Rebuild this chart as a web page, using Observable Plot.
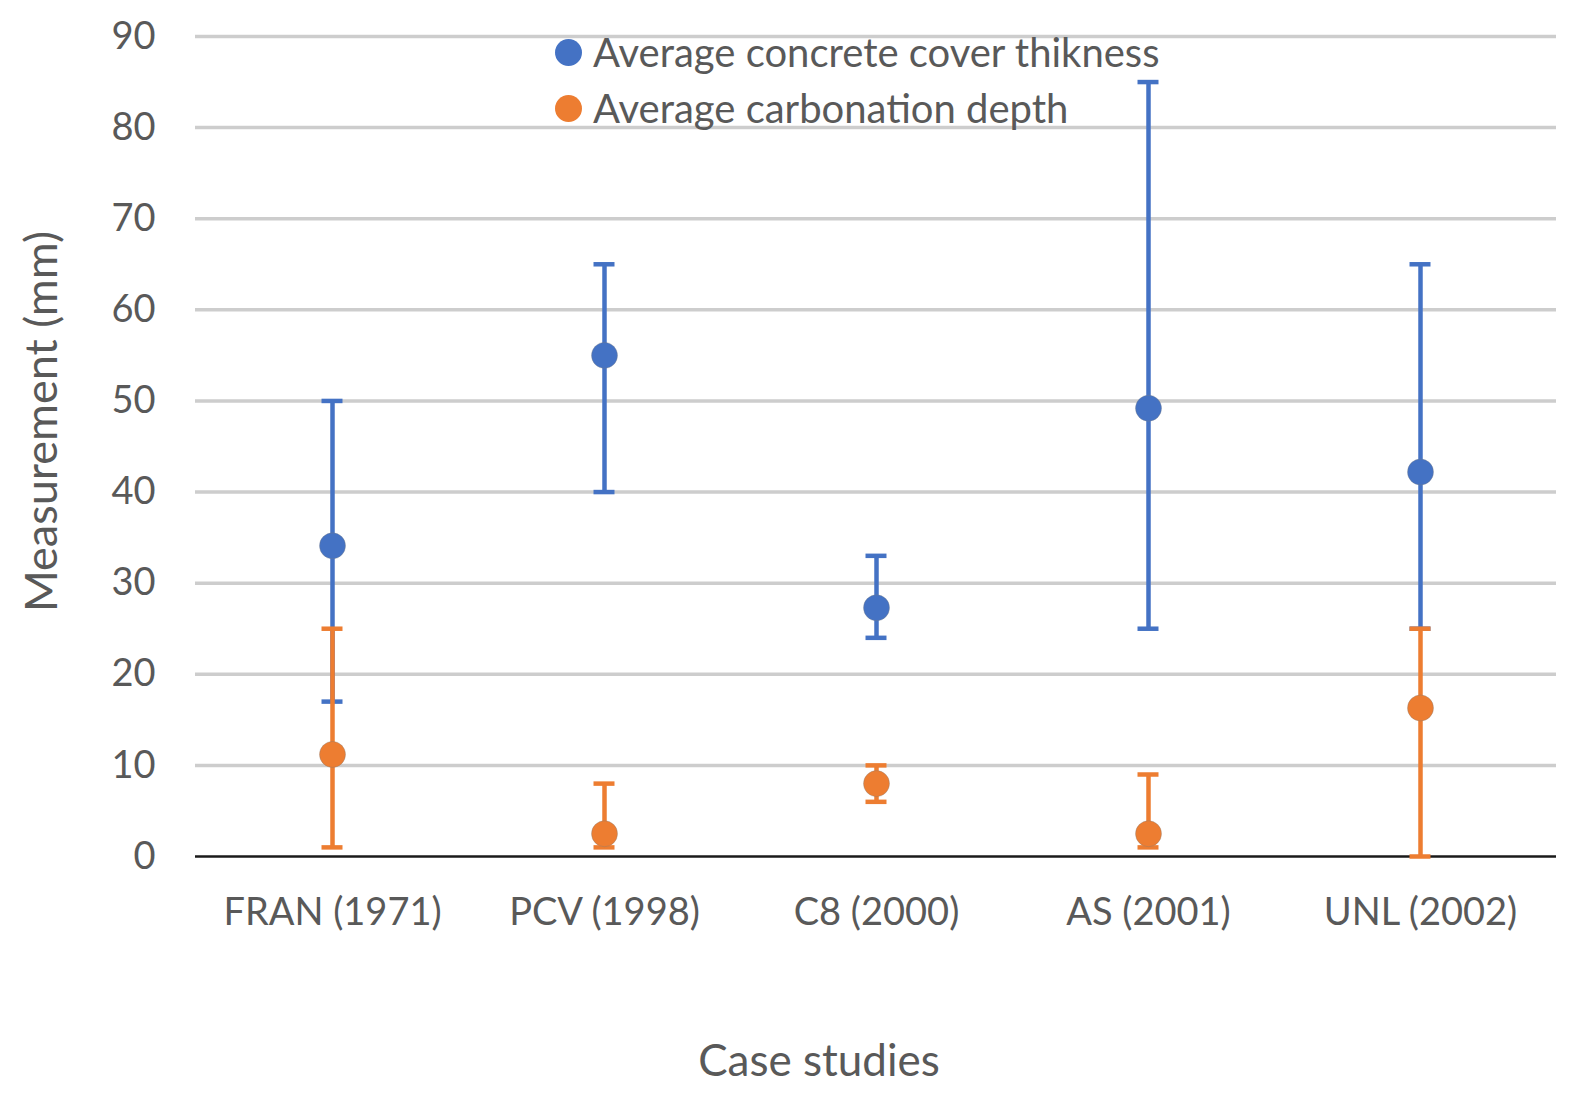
<!DOCTYPE html>
<html>
<head>
<meta charset="utf-8">
<script src="https://cdn.jsdelivr.net/npm/d3@7"></script>
<script src="https://cdn.jsdelivr.net/npm/@observablehq/plot@0.6"></script>
<style>
  html, body { margin: 0; padding: 0; background: #fff; overflow: hidden; }
  #wrap { position: relative; width: 1576px; height: 1096px; font-family: Lato, "Open Sans", sans-serif; }
  .legend { position: absolute; left: 555px; top: 24px; color: #595959; font-size: 40px; line-height: 56px; }
  .legend .row { display: flex; align-items: center; white-space: nowrap; }
  .legend .sw { width: 27px; height: 27px; border-radius: 50%; margin-right: 11px; }
</style>
</head>
<body>
<div id="wrap"></div>
<script>
// ---- data ----
const cases = ["FRAN (1971)", "PCV (1998)", "C8 (2000)", "AS (2001)", "UNL (2002)"];
const coverAvg = [34.1, 55.0, 27.3, 49.2, 42.2];
const coverMin = [17, 40, 24, 25, 25];
const coverMax = [50, 65, 33, 85, 65];
const carbAvg = [11.2, 2.5, 8, 2.5, 16.3];
const carbMin = [1, 1, 6, 1, 0];
const carbMax = [25, 8, 10, 9, 25];
const yTicks = [0, 10, 20, 30, 40, 50, 60, 70, 80, 90];
const seriesNames = ["Average concrete cover thikness", "Average carbonation depth"];
const colors = ["#4472C4", "#ED7D31"];

const cover = cases.map((c, i) => ({case: c, avg: coverAvg[i], lo: coverMin[i], hi: coverMax[i]}));
const carb = cases.map((c, i) => ({case: c, avg: carbAvg[i], lo: carbMin[i], hi: carbMax[i]}));

const capInset = 125.5;
function series(data, color) {
  return [
    Plot.ruleX(data, {x: "case", y1: "lo", y2: "hi", stroke: color, strokeWidth: 4.5}),
    Plot.tickY(data, {x: "case", y: "lo", stroke: color, strokeWidth: 4.5, insetLeft: capInset, insetRight: capInset}),
    Plot.tickY(data, {x: "case", y: "hi", stroke: color, strokeWidth: 4.5, insetLeft: capInset, insetRight: capInset}),
    Plot.dot(data, {x: "case", y: "avg", r: 13, fill: color, stroke: "#7a7a7a", strokeOpacity: 0.35, strokeWidth: 1})
  ];
}

const chart = Plot.plot({
  width: 1576,
  height: 1096,
  marginLeft: 195,
  marginRight: 20,
  marginTop: 36,
  marginBottom: 240,
  style: {fontFamily: "Lato, 'Open Sans', sans-serif", fontSize: "38px", color: "#595959", background: "#fff"},
  x: {type: "band", domain: cases, padding: 0, label: null},
  y: {domain: [0, 90], ticks: yTicks, label: null},
  marks: [
    Plot.gridY(yTicks.filter(d => d > 0), {stroke: "#cdcdcd", strokeWidth: 3.5, strokeOpacity: 1}),
    Plot.ruleY([0], {stroke: "#1a1a1a", strokeWidth: 2.5}),
    Plot.axisY({ticks: yTicks, tickSize: 0, tickPadding: 40, label: null, fill: "#595959"}),
    Plot.axisX({tickSize: 0, tickPadding: 42, label: null, fill: "#595959"}),
    ...series(cover, colors[0]),
    ...series(carb, colors[1]),
    Plot.text(["Case studies"], {frameAnchor: "bottom", dx: -57, dy: 219, fontSize: 44, fill: "#595959"}),
    Plot.text(["Measurement (mm)"], {frameAnchor: "left", textAnchor: "middle", rotate: -90, dx: -153, dy: -25, fontSize: 45, fill: "#595959"})
  ]
});

const wrap = document.getElementById("wrap");
wrap.appendChild(chart);

const legend = document.createElement("div");
legend.className = "legend";
seriesNames.forEach((name, i) => {
  const row = document.createElement("div");
  row.className = "row";
  const sw = document.createElement("span");
  sw.className = "sw";
  sw.style.background = colors[i];
  const t = document.createElement("span");
  t.textContent = name;
  row.appendChild(sw);
  row.appendChild(t);
  legend.appendChild(row);
});
wrap.appendChild(legend);
</script>
</body>
</html>
